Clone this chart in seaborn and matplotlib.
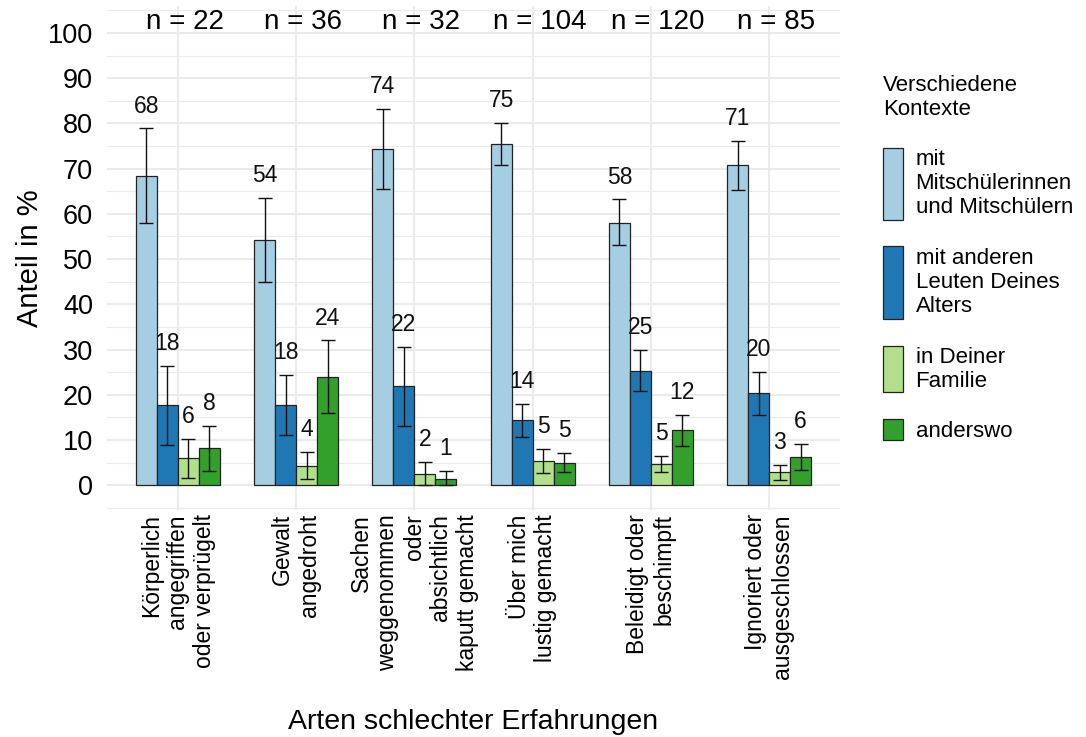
import numpy as np
import pandas as pd
import matplotlib
matplotlib.use("Agg")
import matplotlib.pyplot as plt
import matplotlib.patches as mpatches
from matplotlib.legend_handler import HandlerPatch
import seaborn as sns

# Daten
kategorien = ["Körperlich\nangegriffen\noder verprügelt",
              "Gewalt\nangedroht",
              "Sachen\nweggenommen\noder\nabsichtlich\nkaputt gemacht",
              "Über mich\nlustig gemacht",
              "Beleidigt oder\nbeschimpft",
              "Ignoriert oder\nausgeschlossen"]
kontexte = ["mit\nMitschülerinnen\nund Mitschülern",
            "mit anderen\nLeuten Deines\nAlters",
            "in Deiner\nFamilie",
            "anderswo"]
n_werte = [22, 36, 32, 104, 120, 85]

anteil_mitschueler = [68.4, 54.2, 74.3, 75.4, 58.0, 70.7]
anteil_andere = [17.7, 17.8, 21.9, 14.4, 25.3, 20.4]
anteil_familie = [5.9, 4.2, 2.4, 5.4, 4.6, 2.8]
anteil_anderswo = [8.2, 24.0, 1.4, 4.9, 12.2, 6.3]

unten_mitschueler = [58.0, 44.9, 65.4, 70.9, 53.1, 65.3]
oben_mitschueler = [78.9, 63.6, 83.2, 80.1, 63.2, 76.2]
unten_andere = [8.9, 11.1, 13.1, 10.7, 20.9, 15.5]
oben_andere = [26.3, 24.4, 30.5, 18.0, 29.9, 25.1]
unten_familie = [1.5, 1.3, 0.0, 2.7, 2.8, 1.2]
oben_familie = [10.3, 7.3, 5.1, 8.0, 6.5, 4.5]
unten_anderswo = [3.2, 15.9, 0.0, 2.9, 8.7, 3.3]
oben_anderswo = [13.1, 32.0, 3.1, 7.1, 15.6, 9.2]

farben = ["#A6CEE3", "#1F78B4", "#B2DF8A", "#33A02C"]

werte = [anteil_mitschueler, anteil_andere, anteil_familie, anteil_anderswo]
unten = [unten_mitschueler, unten_andere, unten_familie, unten_anderswo]
oben = [oben_mitschueler, oben_andere, oben_familie, oben_anderswo]

rows = []
for k, ctx in enumerate(kontexte):
    for i, cat in enumerate(kategorien):
        rows.append({"Art": cat, "Kontext": ctx, "Anteil": werte[k][i],
                     "lo": unten[k][i], "hi": oben[k][i]})
df = pd.DataFrame(rows)

sns.set_theme(style="whitegrid")
plt.rcParams["font.family"] = ["Liberation Sans", "DejaVu Sans"]
plt.rcParams["text.color"] = "black"

fig = plt.figure(figsize=(10.86, 7.37), dpi=100)
ax = fig.add_axes([0.0985, 0.308, 0.675, 0.684])

sns.barplot(data=df, x="Art", y="Anteil", hue="Kontext", palette=farben,
            order=kategorien, hue_order=kontexte, width=0.71, gap=0,
            saturation=1, edgecolor="#222222", linewidth=0.9,
            errorbar=None, ax=ax)

bar_containers = list(ax.containers)

# Fehlerbalken und Beschriftungen
for k, cont in enumerate(bar_containers):
    sub = df[df["Kontext"] == kontexte[k]].set_index("Art").loc[kategorien]
    xs = [b.get_x() + b.get_width() / 2 for b in cont]
    v = sub["Anteil"].values
    ax.errorbar(xs, v, yerr=[v - sub["lo"].values, sub["hi"].values - v],
                fmt="none", ecolor="#111111", elinewidth=1.0, capsize=5,
                capthick=1.0, zorder=5)
    for x, val, hi in zip(xs, v, sub["hi"].values):
        ax.text(x, hi + 2.4, f"{val:.0f}", ha="center", va="bottom",
                fontsize=16.5, color="#111111")

for i, n in enumerate(n_werte):
    ax.annotate(f"n = {n}", (i, 102.4), xytext=(5, 0), textcoords="offset points",
                ha="center", va="center", fontsize=20, color="black")

ax.set_ylim(-5.5, 106)
ax.set_xlim(-0.6, 5.6)
ax.set_yticks(np.arange(0, 101, 10))
ax.set_yticks(np.arange(-5, 106, 10), minor=True)
ax.grid(True, which="major", color="#EBEBEB", linewidth=1.5)
ax.grid(True, which="minor", axis="y", color="#EBEBEB", linewidth=0.8)
ax.set_axisbelow(True)
for s in ax.spines.values():
    s.set_visible(False)
ax.tick_params(axis="both", which="both", length=0, colors="black")
ax.tick_params(axis="y", labelsize=19.5, pad=10)
ax.tick_params(axis="x", labelsize=16.5, pad=3)
for lab in ax.get_xticklabels():
    lab.set_rotation(90)
    lab.set_ha("center")
    lab.set_va("top")
    lab.set_multialignment("right")

ax.set_xlabel("Arten schlechter Erfahrungen", fontsize=20.5, labelpad=22,
              color="black")
ax.set_ylabel("Anteil in %", fontsize=21, labelpad=3, color="black")


# Legendenschlüssel so hoch wie der Text daneben
zeilen = {}


def key_patch(legend, orig_handle, xdescent, ydescent, width, height, fontsize):
    nl = zeilen.get(id(orig_handle), 1)
    h = (1.15 * nl - 0.2) * fontsize
    mitte = 0.36 * fontsize
    return mpatches.Rectangle((-xdescent, mitte - h / 2), width, h)


ax.get_legend().remove()
handles = [c.patches[0] for c in bar_containers]
for h, lab in zip(handles, kontexte):
    zeilen[id(h)] = lab.count("\n") + 1
leg = fig.legend(handles, kontexte, title="Verschiedene\nKontexte",
                 loc="upper left", bbox_to_anchor=(0.795, 0.926),
                 frameon=False, fontsize=16, title_fontsize=16,
                 handlelength=0.9, handleheight=0.7, labelspacing=1.32,
                 handletextpad=0.55, alignment="left", labelcolor="black",
                 handler_map={mpatches.Rectangle: HandlerPatch(patch_func=key_patch)})
leg.get_title().set_color("black")

fig.savefig("out.png", dpi=100)
